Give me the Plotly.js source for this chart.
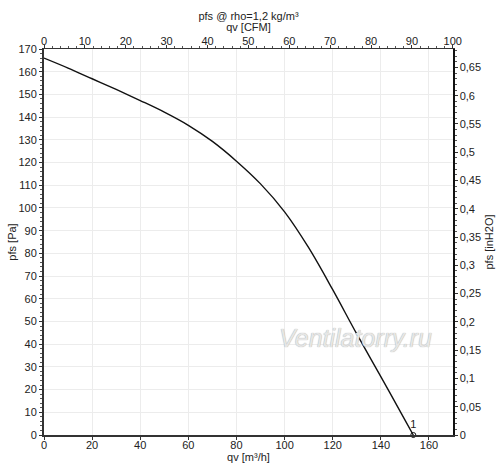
<!DOCTYPE html>
<html>
<head>
<meta charset="utf-8">
<script src="https://cdn.plot.ly/plotly-3.0.1.min.js"></script>
<style>html,body{margin:0;padding:0;background:#fff;}#chart{width:500px;height:476px;}</style>
</head>
<body>
<div id="chart"></div>
<script>
// Flow (m³/h) and static pressure (Pa)
const flowM3h = [0, 10, 20, 30, 40, 50, 60, 70, 80, 90, 100, 110, 120, 130, 140, 150, 153.5];
const pressurePa = [166, 161.6, 156.9, 152.2, 147.3, 142.2, 136.4, 129.3, 120.6, 110.6, 98.3, 82.5, 64, 44.5, 25.7, 6.7, 0];
const pointLabels = ["1"];
const pointFlow = [153.5];
const pointPressure = [0];

const xRange = [0, 170];
const yRange = [0, 170];
const M3H_PER_CFM = 1.69901;
const PA_PER_INH2O = 249.089;

const font = {family: 'Liberation Sans, Arial, sans-serif', size: 11, color: '#222'};

const traces = [
  {x: flowM3h, y: pressurePa, type: 'scatter', mode: 'lines', line: {color: '#111', width: 1.4, shape: 'spline', smoothing: 1}, hoverinfo: 'skip', showlegend: false},
  {x: pointFlow, y: pointPressure, type: 'scatter', mode: 'markers+text', text: pointLabels, textposition: 'top center', textfont: font,
   marker: {symbol: 'circle-open', size: 5, color: '#111', line: {width: 1}}, cliponaxis: false, showlegend: false},
  // invisible trace to activate secondary axes
  {x: [0], y: [0], xaxis: 'x2', yaxis: 'y2', mode: 'markers', marker: {opacity: 0}, hoverinfo: 'skip', showlegend: false}
];

const layout = {
  width: 500, height: 476,
  margin: {l: 44, r: 47, t: 49, b: 41},
  paper_bgcolor: '#fff', plot_bgcolor: '#fff',
  separators: ', ',
  font: font,
  title: {text: 'pfs @ rho=1,2 kg/m³', font: font, x: 0.5, xref: 'paper', xanchor: 'center', y: 0.966, yref: 'container', yanchor: 'middle'},
  xaxis: {
    range: xRange, dtick: 20, tick0: 0,
    showgrid: true, gridcolor: '#ececec', gridwidth: 1, zeroline: false,
    showline: true, linecolor: '#333', linewidth: 2,
    ticks: 'outside', ticklen: 3, tickcolor: '#333', ticklabelstandoff: -4,
    title: {text: 'qv [m³/h]', font: font, standoff: 0},
    tickfont: font
  },
  xaxis2: {
    overlaying: 'x', side: 'top', anchor: 'y',
    range: [xRange[0] / M3H_PER_CFM, xRange[1] / M3H_PER_CFM], dtick: 10, tick0: 0,
    showgrid: false, zeroline: false,
    showline: true, linecolor: '#333', linewidth: 1.5,
    ticks: 'outside', ticklen: 3, tickcolor: '#333', ticklabelstandoff: -5,
    minor: {dtick: 2, ticks: 'outside', ticklen: 2, tickcolor: '#555', showgrid: false},
    title: {text: 'qv [CFM]', font: font, standoff: 1},
    tickfont: font
  },
  yaxis: {
    range: yRange, dtick: 10, tick0: 0,
    showgrid: true, gridcolor: '#ececec', gridwidth: 1, zeroline: false,
    showline: true, linecolor: '#333', linewidth: 2,
    ticks: 'outside', ticklen: 3, tickcolor: '#333',
    minor: {dtick: 2, ticks: 'outside', ticklen: 2, tickcolor: '#555', showgrid: false},
    title: {text: 'pfs [Pa]', font: font, standoff: 0},
    tickfont: font
  },
  yaxis2: {
    overlaying: 'y', side: 'right', anchor: 'x',
    range: [yRange[0] / PA_PER_INH2O, yRange[1] / PA_PER_INH2O], dtick: 0.05, tick0: 0,
    showgrid: false, zeroline: false,
    showline: true, linecolor: '#111', linewidth: 1.5,
    ticks: 'outside', ticklen: 3, tickcolor: '#333',
    minor: {dtick: 0.01, ticks: 'outside', ticklen: 2, tickcolor: '#555', showgrid: false},
    title: {text: 'pfs [inH2O]', font: font, standoff: 5},
    tickfont: font
  },
  annotations: [
    {text: '<i>Ventilatorry.ru</i>', x: 0.762, y: 0.251, xref: 'paper', yref: 'paper', xanchor: 'center', yanchor: 'middle', showarrow: false,
     font: {family: 'Liberation Sans, Arial, sans-serif', size: 25, color: '#e6e6e6', shadow: '0px 0px 1px #9a9a9a'}}
  ]
};

Plotly.newPlot('chart', traces, layout, {staticPlot: true, displayModeBar: false});
</script>
</body>
</html>
